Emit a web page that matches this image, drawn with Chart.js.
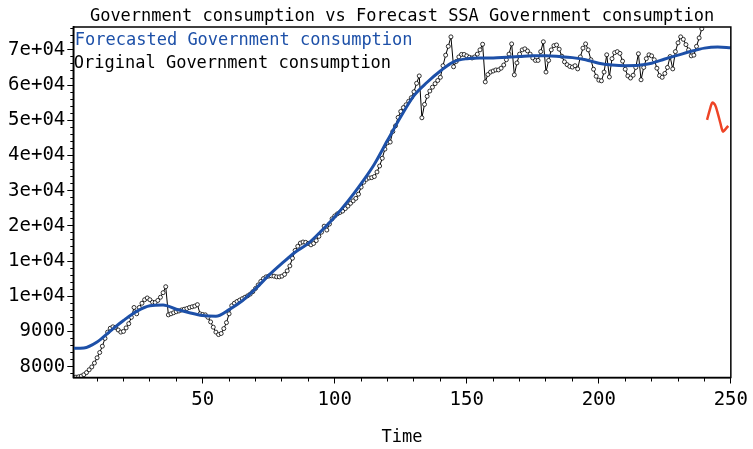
<!DOCTYPE html>
<html><head><meta charset="utf-8">
<script src="https://cdn.jsdelivr.net/npm/chart.js@4/dist/chart.umd.min.js"></script>
<style>html,body{margin:0;padding:0;background:#fff}#wrap{width:753px;height:449px}</style>
</head><body><div id="wrap"><canvas id="c" width="753" height="449"></canvas></div>
<script>
// Original series, time 1..240 (axis units: one unit per labelled y tick)
const originalValues = [
-0.30,-0.30,-0.29,-0.27,-0.23,-0.17,-0.09,-0.01,0.10,0.25,
0.40,0.58,0.80,0.98,1.09,1.13,1.11,1.04,0.98,1.00,
1.10,1.22,1.40,1.68,1.50,1.68,1.80,1.90,1.95,1.90,
1.83,1.82,1.88,1.97,2.10,2.27,1.47,1.50,1.53,1.56,
1.58,1.61,1.63,1.65,1.68,1.70,1.72,1.76,1.50,1.48,
1.47,1.40,1.27,1.12,0.98,0.91,0.94,1.08,1.25,1.50,
1.73,1.80,1.85,1.89,1.93,1.97,2.01,2.06,2.13,2.22,
2.32,2.42,2.50,2.55,2.57,2.58,2.57,2.55,2.55,2.57,
2.62,2.72,2.86,3.08,3.30,3.42,3.51,3.54,3.53,3.50,
3.46,3.50,3.58,3.70,3.82,3.99,3.88,4.05,4.20,4.28,
4.34,4.38,4.42,4.49,4.56,4.64,4.71,4.78,4.90,5.10,
5.24,5.32,5.36,5.37,5.40,5.53,5.70,5.92,6.18,6.36,
6.38,6.68,6.84,7.08,7.25,7.36,7.44,7.54,7.64,7.81,
8.05,8.26,7.07,7.45,7.68,7.83,7.94,8.04,8.13,8.22,
8.55,8.85,9.10,9.37,8.52,8.67,8.80,8.87,8.87,8.83,
8.79,8.77,8.80,8.88,9.00,9.16,8.09,8.30,8.37,8.40,
8.43,8.43,8.48,8.57,8.72,8.88,9.17,8.29,8.63,8.88,
9.00,9.03,8.97,8.88,8.77,8.70,8.70,8.95,9.23,8.37,
8.70,9.00,9.12,9.14,9.02,8.82,8.66,8.58,8.53,8.51,
8.55,8.46,8.80,9.05,9.17,9.00,8.72,8.45,8.25,8.14,
8.12,8.37,8.86,8.23,8.75,8.92,8.95,8.90,8.68,8.45,
8.26,8.20,8.28,8.50,8.89,8.15,8.50,8.75,8.86,8.83,
8.72,8.48,8.27,8.22,8.33,8.50,8.81,8.46,8.95,9.20,
9.37,9.30,9.15,9.00,8.83,8.85,9.10,9.34,9.60,10.0
];
const forecastTimes = [1,5,10,15,20,25,30,35,40,45,50,55,60,65,70,75,80,85,90,95,100,105,110,115,120,125,130,135,140,145,150,155,160,165,170,175,180,185,190,195,200,205,210,215,220,225,230,235,240,245,250];
const forecastValues = [0.52,0.53,0.70,1.01,1.31,1.57,1.73,1.75,1.63,1.53,1.45,1.43,1.62,1.87,2.21,2.59,2.93,3.25,3.50,3.86,4.25,4.70,5.20,5.75,6.43,7.10,7.70,8.08,8.40,8.66,8.75,8.77,8.77,8.79,8.81,8.83,8.83,8.81,8.78,8.72,8.62,8.57,8.55,8.56,8.62,8.74,8.85,8.96,9.05,9.08,9.06];
const ssaTimes = [241,242,243,244,245,246,247,248,249];
const ssaValues = [7.01,7.29,7.50,7.44,7.21,6.93,6.68,6.75,6.84];
const yTickValues = [0,1,2,3,4,5,6,7,8,9];
const yTickLabels = ["8000","9000","1e+04","1e+04","2e+04","3e+04","4e+04","5e+04","6e+04","7e+04"];
const xTickValues = [50,100,150,200,250];
const titleText = "Government consumption vs Forecast SSA Government consumption";
const legendTexts = ["Forecasted Government consumption","Original Government consumption"];

const FONT = "'DejaVu Sans Mono', monospace";
const BLUE = '#1d50a8';
const RED = '#ee4426';

const xMinor = []; for (let v = 10; v <= 250; v += 10) xMinor.push(v);
const yMinor = []; for (let k = -1; k <= 48; k++) yMinor.push(k * 0.2);

const boxPlugin = {
  id: 'boxLegend',
  beforeDraw(chart) {
    const c = chart.ctx; c.save(); c.fillStyle = '#fff'; c.fillRect(0, 0, chart.width, chart.height); c.restore();
  },
  afterDraw(chart) {
    const a = chart.chartArea, c = chart.ctx;
    c.save();
    c.strokeStyle = '#000'; c.lineWidth = 1.5;
    c.strokeRect(a.left, a.top, a.right - a.left, a.bottom - a.top);
    c.font = "17px " + FONT; c.textBaseline = 'alphabetic'; c.textAlign = 'left';
    c.fillStyle = BLUE; c.fillText(legendTexts[0], a.left + 1.5, 45);
    c.fillStyle = '#000'; c.fillText(legendTexts[1], a.left + 0.5, 68);
    c.restore();
  }
};

new Chart(document.getElementById('c'), {
  type: 'line',
  data: { datasets: [
    { label: legendTexts[1], data: originalValues.map((v, i) => ({x: i + 1, y: v})),
      borderColor: '#000', borderWidth: 1, tension: 0, pointRadius: 2, pointBorderWidth: 0.8,
      pointBackgroundColor: '#fff', pointBorderColor: '#000', order: 2 },
    { label: legendTexts[0], data: forecastTimes.map((t, i) => ({x: t, y: forecastValues[i]})),
      borderColor: BLUE, borderWidth: 3, pointRadius: 0, cubicInterpolationMode: 'monotone', order: 1 },
    { label: 'SSA forecast', data: ssaTimes.map((t, i) => ({x: t, y: ssaValues[i]})),
      borderColor: RED, borderWidth: 2.5, pointRadius: 0, tension: 0.3, order: 0 }
  ]},
  options: {
    responsive: false, animation: false, devicePixelRatio: 1,
    layout: { padding: { top: 0, right: 21.3, left: 0, bottom: 0 } },
    plugins: {
      legend: { display: false }, tooltip: { enabled: false },
      title: { display: true, text: titleText, fullSize: false, color: '#000',
        font: { family: FONT, size: 17, weight: 'normal' }, padding: { top: 6, bottom: 0.6 } }
    },
    scales: {
      x: { type: 'linear', position: 'bottom', weight: 1, min: 1, max: 250,
        afterBuildTicks: s => { s.ticks = xTickValues.map(v => ({value: v})); },
        afterFit: s => { s.height = 71.5; },
        ticks: { color: '#000', font: { family: FONT, size: 19 }, padding: 5, maxRotation: 0, autoSkip: false },
        grid: { drawOnChartArea: false, drawTicks: true, tickLength: 6, tickColor: '#000', tickWidth: 1 },
        border: { display: true, color: '#000', width: 1.5 },
        title: { display: true, text: 'Time', color: '#000', font: { family: FONT, size: 17 }, padding: { top: 0, bottom: 1 } } },
      xm: { type: 'linear', position: 'bottom', weight: 0, min: 1, max: 250,
        afterBuildTicks: s => { s.ticks = xMinor.map(v => ({value: v})); },
        afterFit: s => { s.height = 0; },
        ticks: { display: false },
        grid: { drawOnChartArea: false, drawTicks: true, tickLength: 4, tickColor: '#000', tickWidth: 1 },
        border: { display: false } },
      y: { type: 'linear', position: 'left', weight: 1, min: -0.31, max: 9.65,
        afterBuildTicks: s => { s.ticks = yTickValues.map(v => ({value: v})); },
        afterFit: s => { s.width = 73.3; },
        ticks: { color: '#000', font: { family: FONT, size: 19 }, padding: 2,
          callback: (v, i) => yTickLabels[i] },
        grid: { drawOnChartArea: false, drawTicks: true, tickLength: 6, tickColor: '#000', tickWidth: 1 },
        border: { display: true, color: '#000', width: 1.5 } },
      ym: { type: 'linear', position: 'left', weight: 0, min: -0.31, max: 9.65,
        afterBuildTicks: s => { s.ticks = yMinor.map(v => ({value: v})); },
        afterFit: s => { s.width = 0; },
        ticks: { display: false },
        grid: { drawOnChartArea: false, drawTicks: true, tickLength: 3, tickColor: '#000', tickWidth: 1 },
        border: { display: false } }
    }
  },
  plugins: [boxPlugin]
});
</script>
</body></html>
